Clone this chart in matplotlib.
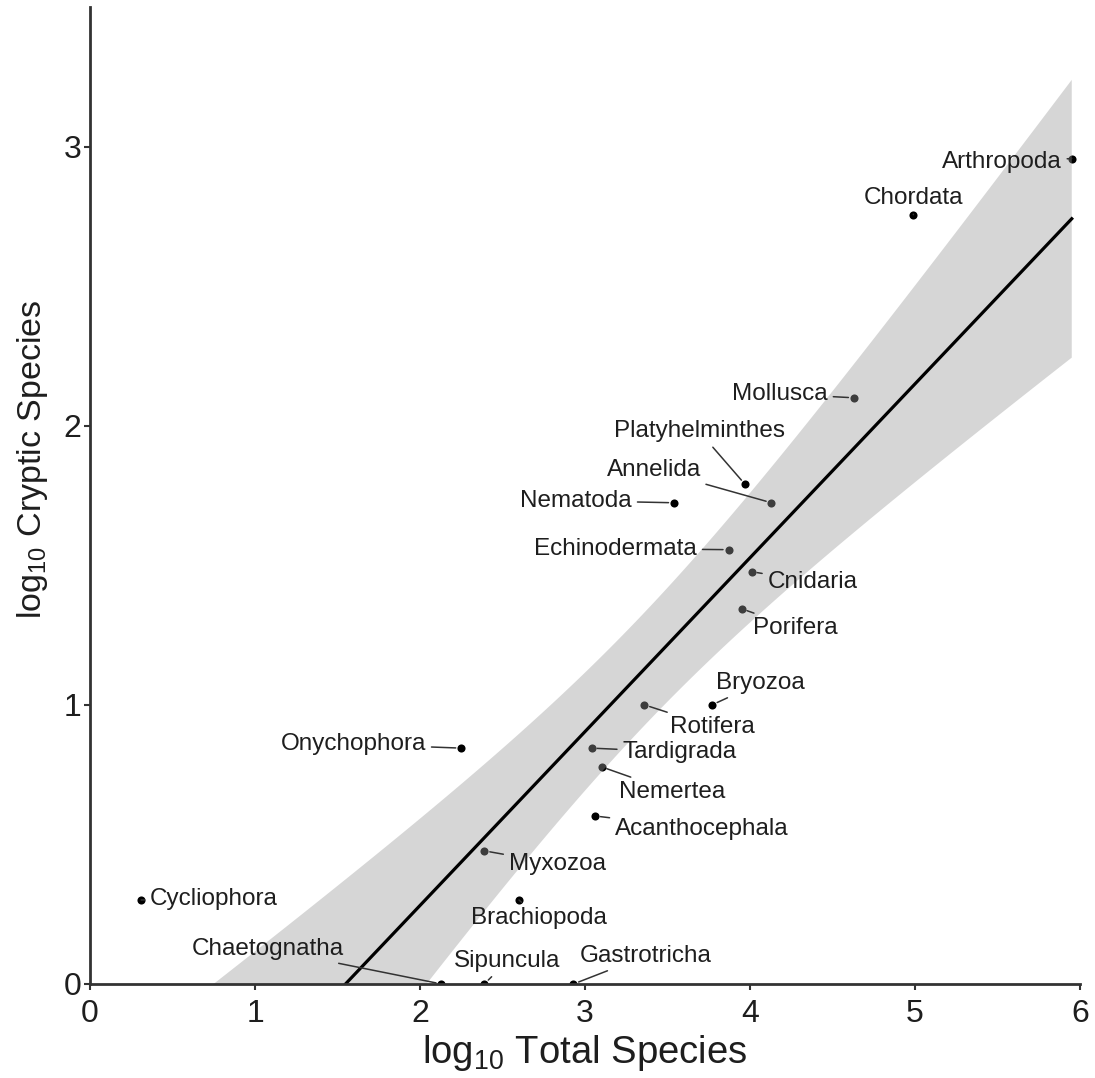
#!/usr/bin/env python3
"""Cryptic vs total species per phylum (log10), with OLS fit and 95% band."""
import numpy as np
import matplotlib

matplotlib.use("Agg")
import matplotlib.pyplot as plt

plt.rcParams["font.family"] = ["Liberation Sans", "DejaVu Sans"]
plt.rcParams["mathtext.fontset"] = "custom"
plt.rcParams["mathtext.rm"] = "Liberation Sans"

phyla = ["Arthropoda", "Chordata", "Mollusca", "Platyhelminthes", "Annelida",
         "Nematoda", "Echinodermata", "Cnidaria", "Porifera", "Bryozoa",
         "Rotifera", "Tardigrada", "Nemertea", "Acanthocephala", "Onychophora",
         "Myxozoa", "Brachiopoda", "Cycliophora", "Chaetognatha", "Sipuncula",
         "Gastrotricha"]
log_total = [5.95, 4.99, 4.63, 3.97, 4.13, 3.54, 3.87, 4.01, 3.95, 3.77,
             3.36, 3.04, 3.10, 3.06, 2.25, 2.39, 2.60, 0.31, 2.13, 2.39, 2.93]
log_cryptic = [2.957, 2.756, 2.10, 1.79, 1.724, 1.724, 1.556, 1.477, 1.344, 1.0,
               1.0, 0.845, 0.778, 0.602, 0.845, 0.477, 0.301, 0.301, 0.0, 0.0, 0.0]

# label placement, pixel offsets from each point (repel-style layout)
label_dx = [-70, 0, -74, -46, -117, -98, -113, 61, 54, 48,
            68, 88, 71, 107, -108, 73, 20, 73, -174, 23, 72]
label_dy = [-3, 17, 4, 53, 33, 2, 1, -10, -19, 22,
            -22, -4, -25, -13, 4, -13, -18, 1, 35, 23, 28]

T_975 = 2.093  # t quantile, df = n - 2 = 19


def fit_band(x, y, xs):
    b1, b0 = np.polyfit(x, y, 1)
    n = len(x)
    resid = y - (b0 + b1 * x)
    s = np.sqrt(np.sum(resid**2) / (n - 2))
    sxx = np.sum((x - x.mean())**2)
    yhat = b0 + b1 * xs
    hw = T_975 * s * np.sqrt(1.0 / n + (xs - x.mean())**2 / sxx)
    return yhat, yhat - hw, yhat + hw


def main():
    x = np.array(log_total)
    y = np.array(log_cryptic)
    xs = np.linspace(x.min(), x.max(), 300)
    yhat, lo, hi = fit_band(x, y, xs)

    fig = plt.figure(figsize=(10.95, 10.78), dpi=100)
    ax = fig.add_axes([0.0822, 0.0872, 0.9041, 0.9063])

    ax.scatter(x, y, s=34, color="black", zorder=2, linewidths=0)
    ax.fill_between(xs, lo, hi, color="#999999", alpha=0.4, lw=0, zorder=3)
    ax.plot(xs, yhat, color="black", lw=2.3, zorder=4)

    for name, px, py, dx, dy in zip(phyla, x, y, label_dx, label_dy):
        ax.annotate(name, (px, py), xytext=(dx, dy), textcoords="offset pixels",
                    ha="center", va="center", fontsize=17.5, color="#1e1e1e",
                    zorder=5, annotation_clip=False,
                    arrowprops=dict(arrowstyle="-", color="#333333", lw=1.1,
                                    shrinkA=2, shrinkB=4))

    ax.set_xlim(0, 6)
    ax.set_ylim(0, 3.5)
    ax.set_xticks(range(7))
    ax.set_yticks(range(4))
    for side in ("top", "right"):
        ax.spines[side].set_visible(False)
    for side in ("left", "bottom"):
        ax.spines[side].set_linewidth(2.0)
        ax.spines[side].set_color("#333333")
        ax.spines[side].set_zorder(6)
    ax.tick_params(axis="both", length=4, width=1.5, color="#333333",
                   labelsize=23, labelcolor="#1e1e1e")
    ax.tick_params(axis="x", pad=7)
    ax.tick_params(axis="y", pad=2)

    ax.set_xlabel(r"$\mathregular{log_{10}}$ Total Species", fontsize=27.5,
                  color="#1e1e1e")
    ax.set_ylabel(r"$\mathregular{log_{10}}$ Cryptic Species", fontsize=24.5,
                  color="#1e1e1e")
    ax.xaxis.set_label_coords(0.5, -0.05)
    ax.yaxis.set_label_coords(-0.04, 0.537)

    fig.savefig("out.png", dpi=100)


if __name__ == "__main__":
    main()
